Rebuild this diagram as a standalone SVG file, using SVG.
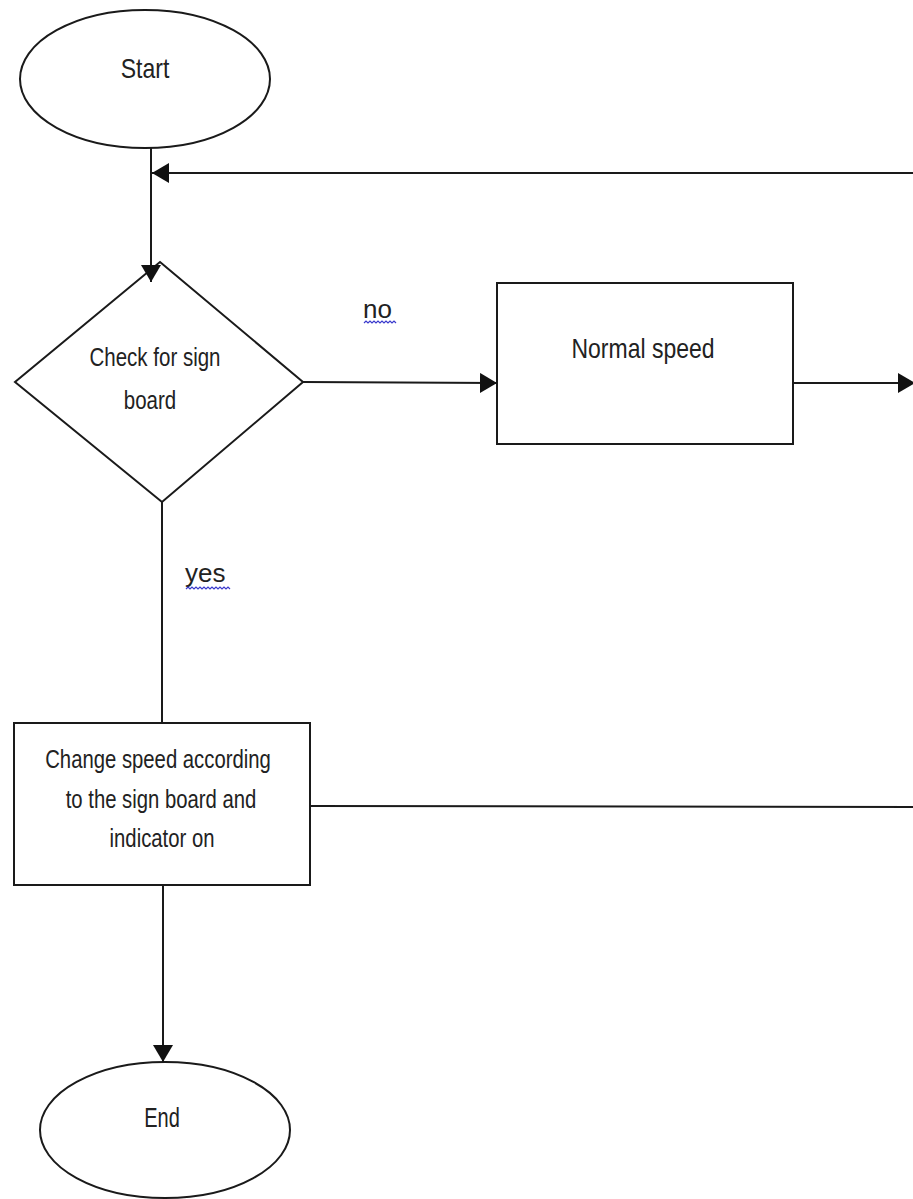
<svg xmlns="http://www.w3.org/2000/svg" width="913" height="1199" viewBox="0 0 913 1199">
  <style>
    .shape { fill: #ffffff; stroke: #1a1a1a; stroke-width: 2; }
    .conn { fill: none; stroke: #1a1a1a; stroke-width: 2; }
    .lbl { font-family: "Liberation Sans", Arial, sans-serif; fill: #222222; text-anchor: middle; }
    .edge-lbl { font-family: "Liberation Sans", Arial, sans-serif; fill: #222222; font-size: 26px; }
    .squiggle { fill: none; stroke: #3a3acc; stroke-width: 1.2; }
  </style>
  <defs>
    <marker id="arrow" markerUnits="userSpaceOnUse" markerWidth="18" markerHeight="20" refX="17" refY="10" orient="auto">
      <path d="M0,0 L17,10 L0,20 Z" fill="#111111"/>
    </marker>
  </defs>
  <rect width="913" height="1199" fill="#ffffff"/>

  <g id="start">
    <ellipse class="shape" cx="145" cy="79" rx="125" ry="69"/>
    <text class="lbl" font-size="23" transform="translate(145,78) scale(1,1.2)">Start</text>
  </g>

  <g id="check">
    <polygon class="shape" points="160,262 303,382 162,502 15,382"/>
    <text class="lbl" font-size="20.5" transform="translate(155,366) scale(1,1.3)">Check for sign</text>
    <text class="lbl" font-size="20.5" transform="translate(150,409) scale(1,1.3)">board</text>
  </g>

  <g id="normal">
    <rect class="shape" x="497" y="283" width="296" height="161"/>
    <text class="lbl" font-size="23" transform="translate(643,358) scale(1,1.2)">Normal speed</text>
  </g>

  <g id="change">
    <rect class="shape" x="14" y="723" width="296" height="162"/>
    <text class="lbl" font-size="20.3" transform="translate(158,768) scale(1,1.3)">Change speed according</text>
    <text class="lbl" font-size="20.3" transform="translate(161,808) scale(1,1.3)">to the sign board and</text>
    <text class="lbl" font-size="20.3" transform="translate(162,847) scale(1,1.3)">indicator on</text>
  </g>

  <g id="end">
    <ellipse class="shape" cx="165" cy="1130" rx="125" ry="68"/>
    <text class="lbl" font-size="20" transform="translate(162,1127) scale(1,1.35)">End</text>
  </g>

  <g id="connectors">
    <path class="conn" d="M151,148 L151,282" marker-end="url(#arrow)"/>
    <path class="conn" d="M913,173 L152,173" marker-end="url(#arrow)"/>
    <path class="conn" d="M303,382 L497,383" marker-end="url(#arrow)"/>
    <path class="conn" d="M793,383 L915,383" marker-end="url(#arrow)"/>
    <path class="conn" d="M162,502 L162,723"/>
    <path class="conn" d="M310,806 L913,807"/>
    <path class="conn" d="M163,885 L163,1062" marker-end="url(#arrow)"/>
  </g>

  <g id="edge-labels">
    <text class="edge-lbl" x="363" y="318">no</text>
    <path class="squiggle" d="M364,323 l2,-2 l2,2 l2,-2 l2,2 l2,-2 l2,2 l2,-2 l2,2 l2,-2 l2,2 l2,-2 l2,2 l2,-2 l2,2 l2,-2 l2,2"/>
    <text class="edge-lbl" x="185" y="582">yes</text>
    <path class="squiggle" d="M186,589 l2,-2 l2,2 l2,-2 l2,2 l2,-2 l2,2 l2,-2 l2,2 l2,-2 l2,2 l2,-2 l2,2 l2,-2 l2,2 l2,-2 l2,2 l2,-2 l2,2 l2,-2 l2,2 l2,-2 l2,2"/>
  </g>
</svg>
